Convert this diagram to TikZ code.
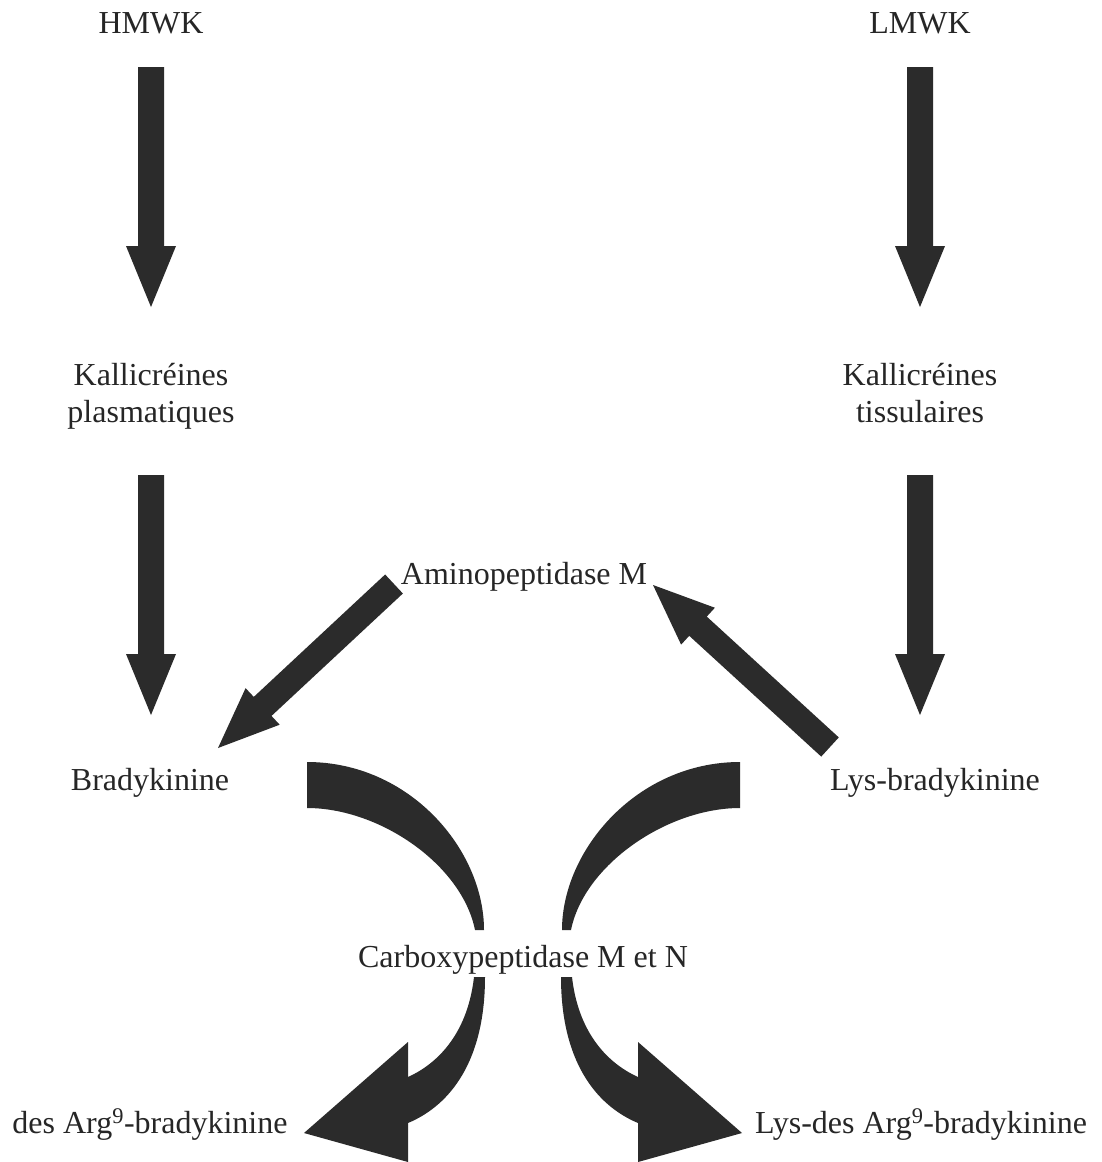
\documentclass[tikz,border=0pt]{standalone}
\usepackage{fontspec}
\setmainfont{Liberation Serif}
\usetikzlibrary{calc}
\definecolor{ink}{HTML}{2B2B2B}
\definecolor{txt}{HTML}{262626}
\tikzset{
  lbl/.style={inner sep=0pt, anchor=base, text=txt, font=\fontsize{32}{37}\selectfont},
  arrowfill/.style={fill=ink},
}
\newcommand\fatarrow[2]{%
  \coordinate (fah) at ($(#2)!61pt!(#1)$);
  \fill[arrowfill] ($(#1)!13pt!90:(#2)$) -- ($(fah)!13pt!90:(#2)$) -- ($(fah)!25pt!90:(#2)$)
    -- (#2) -- ($(fah)!25pt!-90:(#2)$) -- ($(fah)!13pt!-90:(#2)$) -- ($(#1)!13pt!-90:(#2)$) -- cycle;
}
\begin{document}
\begin{tikzpicture}[x=1pt,y=-1pt]
\useasboundingbox (0,0) rectangle (1102,1162);
\fill[white] (0,0) rectangle (1102,1162);

% text nodes
\node[lbl] (hmwk) at (151,33) {HMWK};
\node[lbl] (lmwk) at (920,33) {LMWK};
\node[lbl] (kp1) at (151,385) {Kallicréines};
\node[lbl] (kp2) at (151,422) {plasmatiques};
\node[lbl] (kt1) at (920,385) {Kallicréines};
\node[lbl] (kt2) at (920,422) {tissulaires};
\node[lbl] (amp) at (524,584) {Aminopeptidase M};
\node[lbl] (bk) at (150,790) {Bradykinine};
\node[lbl] (lbk) at (935,790) {Lys-bradykinine};
\node[lbl] (cpmn) at (523,967) {Carboxypeptidase M et N};
\node[lbl] (dabk) at (150,1133) {des Arg\textsuperscript{9}-bradykinine};
\node[lbl] (ldabk) at (921,1133) {Lys-des Arg\textsuperscript{9}-bradykinine};

% arrow end coordinates
\coordinate (a1s) at (151,67);  \coordinate (a1e) at (151,307);
\coordinate (a2s) at (920,67);  \coordinate (a2e) at (920,307);
\coordinate (a3s) at (151,475); \coordinate (a3e) at (151,715);
\coordinate (a4s) at (920,475); \coordinate (a4e) at (920,715);
\coordinate (a5s) at (394,584); \coordinate (a5e) at (218,748);
\coordinate (a6s) at (830,747); \coordinate (a6e) at (653,585);

\fatarrow{a1s}{a1e}
\fatarrow{a2s}{a2e}
\fatarrow{a3s}{a3e}
\fatarrow{a4s}{a4e}
\fatarrow{a5s}{a5e}
\fatarrow{a6s}{a6e}

% curved bands into Carboxypeptidase
\fill[arrowfill] (307,762) .. controls (410,762) and (484,850) .. (484,930)
  -- (475,930) .. controls (462,865) and (380,808) .. (307,808) -- cycle;
\fill[arrowfill] (740,762) .. controls (637,762) and (562,850) .. (562,930)
  -- (571,930) .. controls (584,865) and (667,808) .. (740,808) -- cycle;

% curved arrows out of Carboxypeptidase
\fill[arrowfill] (474,977) -- (485,977) .. controls (485,1060) and (451,1105) .. (408,1123)
  -- (408,1162) -- (304,1133) -- (408,1042) -- (408,1077)
  .. controls (441,1062) and (468,1030) .. (474,977) -- cycle;
\fill[arrowfill] (572,977) -- (561,977) .. controls (561,1060) and (595,1105) .. (638,1123)
  -- (638,1162) -- (742,1133) -- (638,1042) -- (638,1077)
  .. controls (605,1062) and (578,1030) .. (572,977) -- cycle;
\end{tikzpicture}
\end{document}
